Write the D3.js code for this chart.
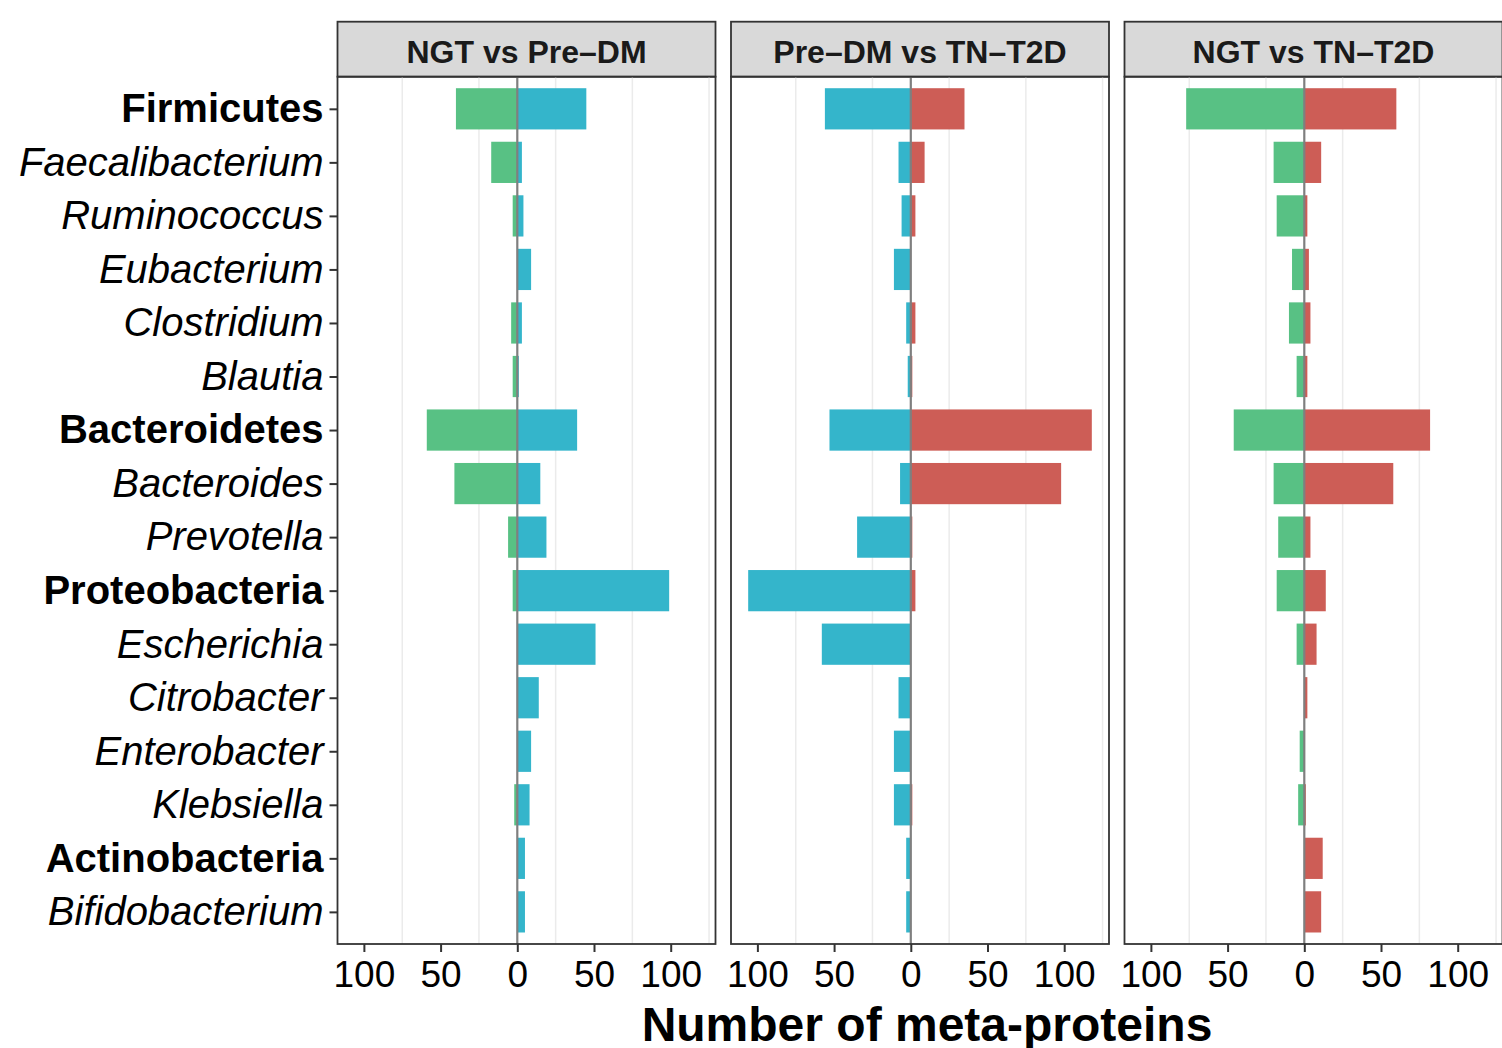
<!DOCTYPE html>
<html>
<head>
<meta charset="utf-8">
<script src="https://cdn.jsdelivr.net/npm/d3@7"></script>
<style>
  body { margin: 0; background: #fff; }
  text { font-family: "Liberation Sans", Arial, Helvetica, sans-serif; }
</style>
</head>
<body>
<div id="chart"></div>
<script>
// Taxa shown on the y axis, top to bottom
var taxa = ["Firmicutes", "Faecalibacterium", "Ruminococcus", "Eubacterium", "Clostridium", "Blautia",
  "Bacteroidetes", "Bacteroides", "Prevotella",
  "Proteobacteria", "Escherichia", "Citrobacter", "Enterobacter", "Klebsiella",
  "Actinobacteria", "Bifidobacterium"];
var phyla = ["Firmicutes", "Bacteroidetes", "Proteobacteria", "Actinobacteria"];

var panelTitles = ["NGT vs Pre\u2013DM", "Pre\u2013DM vs TN\u2013T2D", "NGT vs TN\u2013T2D"];

// counts per taxon, left side (drawn negative) and right side (positive)
var ngtPreLeft  = [40, 17, 3, 0, 4, 3, 59, 41, 6, 3, 0, 0, 0, 2, 0, 0];
var ngtPreRight = [45, 3, 4, 9, 3, 1, 39, 15, 19, 99, 51, 14, 9, 8, 5, 5];
var preT2dLeft  = [56, 8, 6, 11, 3, 2, 53, 7, 35, 106, 58, 8, 11, 11, 3, 3];
var preT2dRight = [35, 9, 3, 0, 3, 1, 118, 98, 1, 3, 0, 0, 0, 1, 0, 0];
var ngtT2dLeft  = [77, 20, 18, 8, 10, 5, 46, 20, 17, 18, 5, 0, 3, 4, 0, 0];
var ngtT2dRight = [60, 11, 2, 3, 4, 2, 82, 58, 4, 14, 8, 2, 0, 1, 12, 11];

var xTicks = [-100, -50, 0, 50, 100];
var gridTicks = [-125, -75, -25, 25, 75, 125];

var colNGT = "#58C184";
var colPre = "#34B5CB";
var colT2D = "#CD5D56";

var panels = [
  { title: panelTitles[0], left: ngtPreLeft, right: ngtPreRight, leftCol: colNGT, rightCol: colPre },
  { title: panelTitles[1], left: preT2dLeft, right: preT2dRight, leftCol: colPre, rightCol: colT2D },
  { title: panelTitles[2], left: ngtT2dLeft, right: ngtT2dRight, leftCol: colNGT, rightCol: colT2D }
];

var svgWidth = 1502;
var svgHeight = 1048;

// panel geometry
var panelLeft = 337.5;
var panelWidth = 378;
var panelGap = 15.5;
var stripTop = 21.7;
var panelTop = 76.7;
var panelBottom = 944;

var svg = d3.select("#chart")
  .append("svg")
  .attr("width", svgWidth)
  .attr("height", svgHeight);

// shared x scale (like facet_grid with fixed scales), 5% expansion
var allVals = [];
panels.forEach(function(p) {
  p.left.forEach(function(v) { allVals.push(-v); });
  p.right.forEach(function(v) { allVals.push(v); });
});
var lo = d3.min(allVals), hi = d3.max(allVals);
var pad = (hi - lo) * 0.05;

var x = d3.scaleLinear()
  .domain([lo - pad, hi + pad])
  .range([0, panelWidth]);

var y = d3.scalePoint()
  .domain(taxa)
  .range([panelTop, panelBottom])
  .padding(0.6);

var barH = y.step() * 0.77;

panels.forEach(function(p, i) {
  var g = svg.append("g")
    .attr("transform", `translate(${panelLeft + i * (panelWidth + panelGap)}, 0)`);

  // strip
  g.append("rect")
    .attr("x", 0)
    .attr("y", stripTop)
    .attr("width", panelWidth)
    .attr("height", panelTop - stripTop)
    .attr("fill", "#d9d9d9")
    .attr("stroke", "#333333")
    .attr("stroke-width", 1.8);

  g.append("text")
    .attr("x", panelWidth / 2)
    .attr("y", 62.5)
    .attr("text-anchor", "middle")
    .attr("font-size", "32px")
    .attr("font-weight", "bold")
    .attr("fill", "#1a1a1a")
    .text(p.title);

  // grid lines
  g.selectAll(".grid")
    .data(gridTicks.filter(function(t) { return x(t) > 0 && x(t) < panelWidth; }))
    .enter()
    .append("line")
    .attr("x1", d => x(d))
    .attr("x2", d => x(d))
    .attr("y1", panelTop)
    .attr("y2", panelBottom)
    .attr("stroke", "#ebebeb")
    .attr("stroke-width", 1.5);

  // left bars
  g.selectAll(".barL")
    .data(p.left)
    .enter()
    .append("rect")
    .attr("x", d => x(-d))
    .attr("y", (d, j) => y(taxa[j]) - barH / 2)
    .attr("width", d => x(0) - x(-d))
    .attr("height", barH)
    .attr("fill", p.leftCol);

  // right bars
  g.selectAll(".barR")
    .data(p.right)
    .enter()
    .append("rect")
    .attr("x", x(0))
    .attr("y", (d, j) => y(taxa[j]) - barH / 2)
    .attr("width", d => x(d) - x(0))
    .attr("height", barH)
    .attr("fill", p.rightCol);

  // zero line
  g.append("line")
    .attr("x1", x(0))
    .attr("x2", x(0))
    .attr("y1", panelTop)
    .attr("y2", panelBottom)
    .attr("stroke", "#7f7f7f")
    .attr("stroke-width", 2.2);

  // panel border
  g.append("rect")
    .attr("x", 0)
    .attr("y", panelTop)
    .attr("width", panelWidth)
    .attr("height", panelBottom - panelTop)
    .attr("fill", "none")
    .attr("stroke", "#333333")
    .attr("stroke-width", 1.8);

  // x axis
  var xAxis = g.append("g")
    .attr("transform", `translate(0, ${panelBottom})`)
    .call(d3.axisBottom(x)
      .tickValues(xTicks)
      .tickFormat(d => Math.abs(d))
      .tickSize(8)
      .tickPadding(4));
  xAxis.select(".domain").remove();
  xAxis.selectAll(".tick line")
    .attr("stroke", "#333333")
    .attr("stroke-width", 2);
  xAxis.selectAll(".tick text")
    .attr("font-size", "37px")
    .attr("fill", "#000")
    .attr("dy", "0.71em")
    .attr("y", 17);

  // y axis only on first panel
  if (i === 0) {
    var yAxis = g.append("g")
      .call(d3.axisLeft(y)
        .tickSize(8)
        .tickPadding(6));
    yAxis.select(".domain").remove();
    yAxis.selectAll(".tick line")
      .attr("stroke", "#333333")
      .attr("stroke-width", 2);
    yAxis.selectAll(".tick text")
      .attr("font-size", "40px")
      .attr("fill", "#000")
      .attr("font-weight", d => phyla.indexOf(d) >= 0 ? "bold" : "normal")
      .attr("font-style", d => phyla.indexOf(d) >= 0 ? "normal" : "italic");
  }
});

// x axis title
svg.append("text")
  .attr("x", 927)
  .attr("y", 1041)
  .attr("text-anchor", "middle")
  .attr("font-size", "48px")
  .attr("font-weight", "bold")
  .attr("fill", "#000")
  .text("Number of meta-proteins");
</script>
</body>
</html>
